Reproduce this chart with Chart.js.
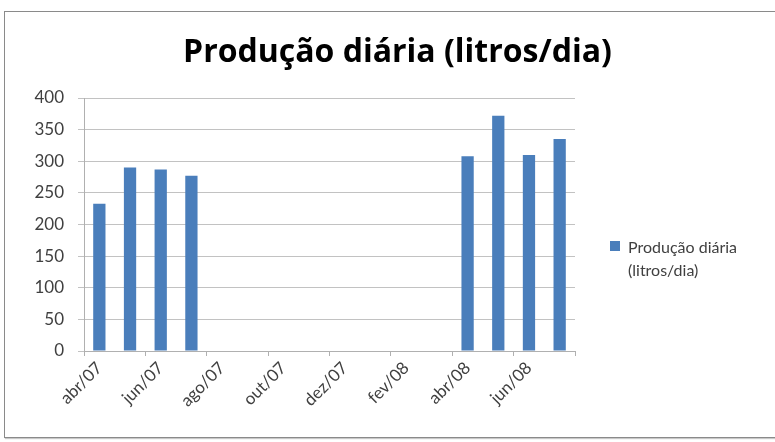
<!DOCTYPE html>
<html><head><meta charset="utf-8">
<script src="https://cdn.jsdelivr.net/npm/chart.js@4.4.1/dist/chart.umd.min.js"></script>
<style>
html,body{margin:0;padding:0;width:775px;height:442px;overflow:hidden;background:#fff;}
#frame{position:absolute;left:4px;top:11px;width:800px;height:427px;border:1px solid #8a8a8a;box-sizing:border-box;box-shadow:1px 1px 1px #c8c8c8;}
#wrap{position:absolute;left:0;top:0;width:795px;height:442px;}
</style></head><body>
<div id="frame"></div>
<div id="wrap"><canvas id="c"></canvas></div>
<script>
const titleText = 'Produção diária (litros/dia)';
const seriesLabel = 'Produção diária (litros/dia)';
const legendLines = ['Produção diária', '(litros/dia)'];
const months = ['abr/07','mai/07','jun/07','jul/07','ago/07','set/07','out/07','nov/07','dez/07','jan/08','fev/08','mar/08','abr/08','mai/08','jun/08','jul/08'];
const production = [233, 290, 287, 277, null, null, null, null, null, null, null, null, 308, 372, 310, 335];
const yTicks = [0, 50, 100, 150, 200, 250, 300, 350, 400];

const barColor = '#4a7ebb';
const textColor = '#404040';
const gridColor = '#c2c2c2';
const axisColor = '#b0b0b0';

const sideLegend = {
  id: 'sideLegend',
  afterDraw(chart) {
    const ctx = chart.ctx;
    const area = chart.chartArea;
    const ds = chart.data.datasets[0];
    const bx = area.right + 35;
    ctx.save();
    ctx.fillStyle = ds.backgroundColor;
    ctx.fillRect(bx, 241, 10, 10);
    ctx.fillStyle = textColor;
    ctx.font = '16px Lato';
    ctx.textBaseline = 'alphabetic';
    ctx.textAlign = 'left';
    legendLines.forEach((line, i) => ctx.fillText(line, bx + 18, 253 + i * 23));
    ctx.restore();
  }
};

new Chart(document.getElementById('c'), {
  type: 'bar',
  data: {
    labels: months,
    datasets: [{
      label: seriesLabel,
      data: production,
      backgroundColor: barColor,
      borderWidth: 0,
      barPercentage: 0.4,
      categoryPercentage: 1.0
    }]
  },
  options: {
    responsive: true,
    maintainAspectRatio: false,
    animation: false,
    layout: { padding: 0 },
    plugins: {
      legend: { display: false },
      tooltip: { enabled: false },
      title: {
        display: true,
        text: titleText,
        color: '#000',
        font: { family: 'Open Sans', size: 32, weight: 'bold', lineHeight: 1.2 },
        padding: { top: 34, bottom: 25.6 }
      }
    },
    scales: {
      x: {
        type: 'category',
        offset: true,
        grid: {
          offset: true,
          drawOnChartArea: false,
          drawTicks: true,
          tickLength: 5,
          color: (c) => (c.index === undefined || c.index % 2 === 0) ? axisColor : 'rgba(0,0,0,0)'
        },
        border: { display: true, color: axisColor, width: 1 },
        ticks: {
          autoSkip: false,
          maxRotation: 45,
          minRotation: 45,
          padding: 2,
          color: textColor,
          font: { family: 'Lato', size: 17 },
          callback: function (value, index) { return index % 2 === 0 ? this.getLabelForValue(value) : ''; }
        },
        afterFit: (s) => { s.height = 91; }
      },
      y: {
        min: 0,
        max: 400,
        afterBuildTicks: (s) => { s.ticks = yTicks.map(v => ({ value: v })); },
        grid: { color: gridColor, drawTicks: true, tickLength: 6 },
        border: { display: true, color: axisColor },
        ticks: {
          color: textColor,
          padding: 14,
          font: { family: 'Lato', size: 17 }
        },
        afterFit: (s) => { s.width = 84; }
      },
      spacer: {
        type: 'linear',
        position: 'right',
        display: true,
        grid: { display: false, drawTicks: false },
        border: { display: false },
        ticks: { display: false },
        afterFit: (s) => { s.width = 220; }
      }
    }
  },
  plugins: [sideLegend]
});
</script>
</body></html>
